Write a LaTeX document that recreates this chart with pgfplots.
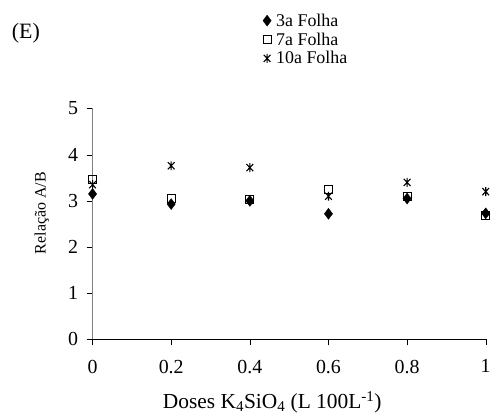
\documentclass[border=0pt]{standalone}
\usepackage{fontspec}
\setmainfont{Liberation Serif}
\usepackage{pgfplots}
\pgfplotsset{compat=1.18}

% x with a vertical bar, like the spreadsheet star marker
\pgfdeclareplotmark{xbar}{%
  \pgfpathmoveto{\pgfqpoint{-.75\pgfplotmarksize}{-.8\pgfplotmarksize}}%
  \pgfpathlineto{\pgfqpoint{.75\pgfplotmarksize}{.8\pgfplotmarksize}}%
  \pgfpathmoveto{\pgfqpoint{-.75\pgfplotmarksize}{.8\pgfplotmarksize}}%
  \pgfpathlineto{\pgfqpoint{.75\pgfplotmarksize}{-.8\pgfplotmarksize}}%
  \pgfpathmoveto{\pgfqpoint{0pt}{-\pgfplotmarksize}}%
  \pgfpathlineto{\pgfqpoint{0pt}{\pgfplotmarksize}}%
  \pgfusepathqstroke}

\begin{document}
\begin{tikzpicture}
\path (-93bp,-78bp) rectangle (401bp,341bp);
\node[font=\fontsize{22bp}{24bp}\selectfont] at (-67bp,308bp) {(E)};
\begin{axis}[
    at={(0,0)}, anchor=origin,
    scale only axis,
    width=395bp, height=232bp,
    xmin=0, xmax=1, ymin=0, ymax=5,
    axis lines*=left,
    clip=false,
    tick align=outside,
    major tick length=6bp,
    xtick={0,0.2,0.4,0.6,0.8,1},
    xticklabels={0,0.2,0.4,0.6,0.8,1},
    ytick={0,1,2,3,4,5},
    /pgf/number format/assume math mode=true,
    tick label style={font=\fontsize{20bp}{22bp}\selectfont},
    xticklabel style={yshift=-11bp},
    yticklabel style={xshift=-5bp},
    tick style={black},
    y axis line style={gray},
    x axis line style={black},
    xlabel={Doses K\textsubscript{4}SiO\textsubscript{4} (L 100L\textsuperscript{-1})},
    ylabel={Relação A/B},
    xlabel style={font=\fontsize{21.5bp}{23bp}\selectfont, at={(axis description cs:0.457,-0.272)}, anchor=center},
    ylabel style={font=\fontsize{16bp}{18bp}\selectfont, at={(axis description cs:-0.129,0.547)}, anchor=center},
    legend style={draw=none, fill=none, at={(axis description cs:0.433,1.42)}, anchor=north west,
        font=\fontsize{18bp}{20bp}\selectfont, inner sep=0pt, row sep=1bp},
    legend cell align=left,
]
\addplot[only marks, mark=diamond*, mark size=5.5bp, black] coordinates {
    (0,3.15) (0.2,2.93) (0.4,3.0) (0.6,2.72) (0.8,3.05) (1,2.73)};
\addlegendentry{\hspace*{3bp}3a Folha}
\addplot[only marks, mark=square, mark size=4bp, black, mark options={fill=white, line width=1pt}] coordinates {
    (0,3.47) (0.2,3.05) (0.4,3.02) (0.6,3.25) (0.8,3.1) (1,2.68)};
\addlegendentry{\hspace*{3bp}7a Folha}
\addplot[only marks, mark=xbar, mark size=4.5bp, black, mark options={line width=1.1pt}] coordinates {
    (0,3.35) (0.2,3.76) (0.4,3.72) (0.6,3.1) (0.8,3.4) (1,3.2)};
\addlegendentry{\hspace*{3bp}10a Folha}
\end{axis}
\end{tikzpicture}
\end{document}
